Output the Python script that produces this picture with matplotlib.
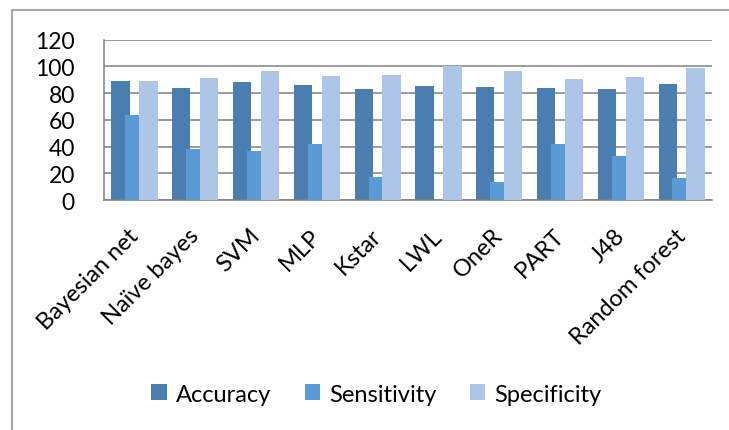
import matplotlib

matplotlib.use("Agg")
import matplotlib.pyplot as plt
import matplotlib.transforms as mtransforms
import numpy as np
from matplotlib.patches import Rectangle

plt.rcParams["font.family"] = ["Lato", "DejaVu Sans"]

classifiers = [
    "Bayesian net", "Naïve bayes", "SVM", "MLP", "Kstar",
    "LWL", "OneR", "PART", "J48", "Random forest",
]
accuracy = [89.3, 83.6, 88.3, 85.8, 82.8, 85.6, 84.3, 83.6, 83.3, 87.1]
sensitivity = [63.9, 38.4, 36.7, 41.7, 17.2, 0.0, 13.4, 42.3, 33.3, 16.4]
specificity = [88.8, 91.1, 96.8, 93.1, 93.8, 100.0, 96.3, 90.5, 92.0, 98.5]

series = [
    ("Accuracy", accuracy, "#4a7eb1"),
    ("Sensitivity", sensitivity, "#5b9bd5"),
    ("Specificity", specificity, "#adc5e7"),
]

fig = plt.figure(figsize=(7.29, 4.31), dpi=100)
ax = fig.add_axes([0.1427, 0.5336, 0.834, 0.3720])

x = np.arange(len(classifiers))
offset = 0.23
width = 0.30
handles = []
for i, (name, values, color) in enumerate(series):
    bars = ax.bar(x + (i - 1) * offset, values, width=width, color=color,
                  label=name, zorder=2 + i, linewidth=0)
    handles.append(bars)

ax.set_xlim(-0.5, len(classifiers) - 0.5)
ax.set_ylim(0, 120)
ax.set_yticks(range(0, 121, 20))
ax.yaxis.grid(True, color="#808080", linewidth=1.1, zorder=1)
ax.set_axisbelow(True)
for side in ("top", "right"):
    ax.spines[side].set_visible(False)
for side in ("left", "bottom"):
    ax.spines[side].set_color("#808080")
    ax.spines[side].set_linewidth(1.1)
ax.tick_params(axis="both", length=0, colors="black")
ax.tick_params(axis="y", labelsize=16.5, pad=21)
ax.tick_params(axis="x", labelsize=17, pad=14)
ax.set_xticks(x)
ax.set_xticklabels(classifiers, rotation=45, ha="right", rotation_mode="anchor")
shift = mtransforms.ScaledTranslation(-7 / 100, -5 / 100, fig.dpi_scale_trans)
for label in ax.get_xticklabels():
    label.set_transform(label.get_transform() + shift)

fig.legend(handles=handles, loc="center", bbox_to_anchor=(0.5165, 0.0835),
           ncol=3, frameon=False, fontsize=17, handlelength=0.65,
           handleheight=0.65, handletextpad=0.4, columnspacing=1.4)

# outer chart frame
fig.patches.append(Rectangle((12 / 729, -0.1), 1.0, 1.1 - 11 / 431,
                             transform=fig.transFigure, fill=False,
                             edgecolor="#a6a6a6", linewidth=1.5))

fig.savefig("out.png", dpi=100)
